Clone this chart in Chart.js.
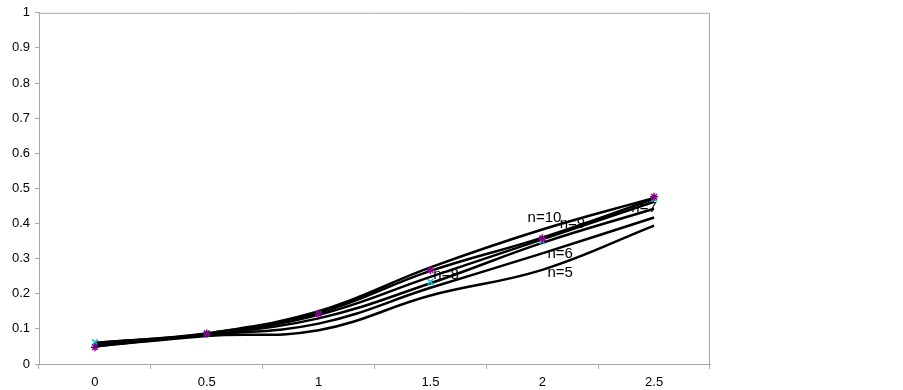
<!DOCTYPE html>
<html>
<head>
<meta charset="utf-8">
<script src="https://cdn.jsdelivr.net/npm/chart.js@4.4.1/dist/chart.umd.min.js"></script>
<style>
html,body{margin:0;padding:0;background:#fff;}
#wrap{width:903px;height:390px;position:relative;}
</style>
</head>
<body>
<div id="wrap"><canvas id="c" width="903" height="390"></canvas></div>
<script>
// ---- data ----
const categories = ['0', '0.5', '1', '1.5', '2', '2.5'];
const n5  = [0.050, 0.080, 0.096, 0.195, 0.268, 0.394];
const n6  = [0.055, 0.083, 0.115, 0.217, 0.315, 0.417];
const n7  = [0.060, 0.085, 0.130, 0.230, 0.345, 0.442];
const n8  = [0.055, 0.085, 0.140, 0.248, 0.355, 0.462];
const n9  = [0.060, 0.087, 0.145, 0.265, 0.360, 0.470];
const n10 = [0.050, 0.087, 0.150, 0.275, 0.383, 0.473];
const starMarks  = [0.048, 0.087, 0.143, 0.268, 0.358, 0.476];
const crossMarks = [0.062, 0.087, 0.143, 0.234, 0.350, 0.470];
const yTicks = [0, 0.1, 0.2, 0.3, 0.4, 0.5, 0.6, 0.7, 0.8, 0.9, 1];
const yTickLabels = ['0', '0.1', '0.2', '0.3', '0.4', '0.5', '0.6', '0.7', '0.8', '0.9', '1'];
const seriesLabels = ['n=5', 'n=6', 'n=7', 'n=8', 'n=9', 'n=10'];
// label anchors in data units: [category index, value]
const labelAnchors = [[4.16, 0.259], [4.16, 0.313], [4.91, 0.445], [3.14, 0.254], [4.27, 0.400], [4.02, 0.417]];

const lineSeries = [n5, n6, n7, n8, n9, n10];

const datasets = [
  {label: 'star', data: starMarks, showLine: false, pointStyle: 'star', pointRadius: 4, borderColor: '#800080', backgroundColor: '#800080', pointBorderWidth: 1.5, order: 0},
  {label: 'cross', data: crossMarks, showLine: false, pointStyle: 'crossRot', pointRadius: 4, borderColor: '#00c8d0', backgroundColor: '#00c8d0', pointBorderWidth: 1.5, order: 0}
];
lineSeries.forEach((s, i) => datasets.push({
  label: seriesLabels[i], data: s, borderColor: '#000', borderWidth: 2.5,
  pointRadius: 0, tension: 0.4, fill: false, order: 1
}));

const frame = {
  id: 'frame',
  afterDraw(chart) {
    const {ctx, chartArea: a, scales} = chart;
    ctx.save();
    ctx.strokeStyle = '#a6a6a6';
    ctx.lineWidth = 1;
    ctx.beginPath();
    ctx.moveTo(a.left, a.top + 0.5);
    ctx.lineTo(a.right - 0.5, a.top + 0.5);
    ctx.lineTo(a.right - 0.5, a.bottom);
    ctx.stroke();
    ctx.fillStyle = '#000';
    ctx.font = '15px "Liberation Sans", Arial, sans-serif';
    ctx.textAlign = 'center';
    ctx.textBaseline = 'middle';
    seriesLabels.forEach((t, i) => {
      const [ix, v] = labelAnchors[i];
      const x0 = scales.x.getPixelForValue(Math.floor(ix));
      const x1 = scales.x.getPixelForValue(Math.floor(ix) + 1);
      const x = x0 + (x1 - x0) * (ix - Math.floor(ix));
      ctx.fillText(t, x, scales.y.getPixelForValue(v));
    });
    ctx.restore();
  }
};

new Chart(document.getElementById('c'), {
  type: 'line',
  data: {labels: categories, datasets},
  options: {
    responsive: false,
    animation: false,
    devicePixelRatio: 1,
    layout: {padding: {left: 0, right: 193, top: 9, bottom: 0}},
    plugins: {legend: {display: false}, tooltip: {enabled: false}},
    scales: {
      x: {
        offset: true,
        grid: {offset: true, drawOnChartArea: false, color: '#a6a6a6', tickLength: 5, tickColor: '#a6a6a6'},
        border: {color: '#a6a6a6'},
        ticks: {color: '#000', font: {family: '"Liberation Sans", Arial, sans-serif', size: 13}, padding: 6, maxRotation: 0},
        afterFit(s) { s.height = 26; }
      },
      y: {
        min: 0, max: 1,
        afterBuildTicks(s) { s.ticks = yTicks.map(v => ({value: v})); },
        grid: {drawOnChartArea: false, color: '#a6a6a6', tickLength: 4, tickColor: '#a6a6a6'},
        border: {color: '#a6a6a6'},
        ticks: {
          color: '#000', font: {family: '"Liberation Sans", Arial, sans-serif', size: 13}, padding: 5,
          callback: (v, i) => yTickLabels[i]
        },
        afterFit(s) { s.width = 39; }
      }
    }
  },
  plugins: [frame]
});
</script>
</body>
</html>
